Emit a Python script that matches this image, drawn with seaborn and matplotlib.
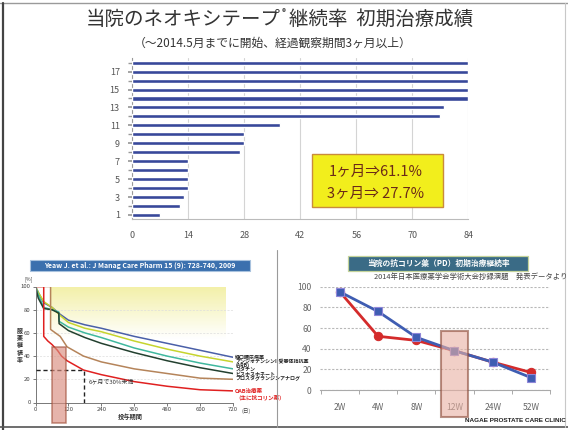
import numpy as np
import matplotlib
matplotlib.use("Agg")
import matplotlib.pyplot as plt
from matplotlib.patches import Rectangle
from matplotlib.lines import Line2D
import seaborn as sns

# ---------------- upper chart: days on tape per patient ----------------
patient_no = list(range(1, 19))
days_on_tape = [7, 12, 13, 14, 14, 14, 14, 27, 28, 28, 37, 77, 78, 84, 84, 84, 84, 84]
top_xticks = [0, 14, 28, 42, 56, 70, 84]
top_yticks = [1, 3, 5, 7, 9, 11, 13, 15, 17]
summary_lines = ["1ヶ月⇒61.1%", "3ヶ月⇒ 27.7%"]

# ---------------- lower left: persistence curves (Yeaw 2009) ----------------
dm_days = [0, 10, 30, 60, 90, 120, 180, 240, 360, 480, 600, 720]
dm_pct = [100, 95, 86, 82, 76, 71, 67, 64, 57, 51, 45, 39]
arb_days = [0, 10, 30, 60, 90, 120, 180, 240, 360, 480, 600, 720]
arb_pct = [100, 95, 87, 82, 75, 69, 64, 61, 53, 46, 40, 35]
statin_days = [0, 10, 30, 60, 85, 86, 120, 180, 240, 360, 480, 600, 720]
statin_pct = [100, 93, 82, 80, 78, 70, 65, 60, 56, 47, 40, 34, 29]
bp_days = [0, 10, 30, 60, 85, 86, 120, 180, 240, 360, 480, 600, 720]
bp_pct = [100, 90, 81, 80, 77, 68, 62, 56, 51, 43, 36, 30, 25]
pg_days = [0, 55, 55, 90, 115, 175, 240, 360, 480, 600, 720]
pg_pct = [100, 100, 63, 57, 48, 40, 35, 29, 25, 21, 20]
oab_days = [0, 30, 30, 45, 60, 80, 95, 115, 175, 240, 360, 480, 600, 720]
oab_pct = [100, 100, 57, 53, 50, 45, 40, 36, 28, 24, 18, 14, 11, 10]
curve_labels = ["経口糖尿病薬", "アンジオテンシンII受容体拮抗薬", "(ARB)", "スタチン",
                "ビスホスホネート", "プロスタグランジンアナログ"]
oab_labels = ["OAB治療薬", "（主に抗コリン薬）"]
ll_xticks = [0, 120, 240, 360, 480, 600, 720]
ll_yticks = [0, 20, 40, 60, 80, 100]

# ---------------- lower right: clinic anticholinergic persistence ----------------
weeks = ["2W", "4W", "8W", "12W", "24W", "52W"]
rate_blue = [95, 76, 51, 38, 27, 12]
rate_red = [95, 52, 48, 38, 27, 17]
lr_yticks = [0, 20, 40, 60, 80, 100]

sns.set_theme(style="white")
plt.rcParams["font.family"] = ["Noto Sans CJK JP", "DejaVu Sans"]

W, H = 568, 430
fig = plt.figure(figsize=(W / 100, H / 100), dpi=100)
fig.patch.set_facecolor("white")


def fx(px):
    return px / W


def fy(py):
    return 1 - py / H


def box(x0, y0, x1, y1):
    return [fx(x0), fy(y1), fx(x1) - fx(x0), fy(y0) - fy(y1)]


# slide frame
for (xa, ya, xb, yb, c, lw) in [(0, 3, 568, 3, "#9a9a9a", 1.0), (3, 3, 3, 430, "#444444", 1.6),
                                  (0, 427, 568, 427, "#555555", 1.2), (277, 250, 277, 427, "#9a9a9a", 0.8),
                                  (565, 3, 565, 427, "#c8c8c8", 0.8)]:
    fig.add_artist(Line2D([fx(xa), fx(xb)], [fy(ya), fy(yb)], color=c, lw=lw))

# ---------------- titles ----------------
fig.text(fx(86), fy(19), "当院のネオキシテープ", fontsize=14, color="#333333", ha="left", va="center")
fig.text(fx(282), fy(13), "®", fontsize=6, color="#333333", ha="left", va="center")
fig.text(fx(289), fy(19), "継続率  初期治療成績", fontsize=14, color="#333333", ha="left", va="center")
fig.text(fx(273), fy(43), "（～2014.5月までに開始、経過観察期間3ヶ月以上）", fontsize=8.5,
         color="#333333", ha="center", va="center")

# ---------------- upper chart ----------------
ax1 = fig.add_axes(box(132.3, 58, 468.3, 219))
sns.barplot(x=days_on_tape, y=patient_no, orient="h", native_scale=True, color="#38489a",
            width=0.45, saturation=1, errorbar=None, ax=ax1, zorder=3)
ax1.set_xlim(0, 84)
ax1.set_ylim(0.55, 18.52)
ax1.set_xticks(top_xticks)
ax1.set_yticks(top_yticks)
ax1.set_xticklabels([str(v) for v in top_xticks])
ax1.set_yticklabels([str(v) for v in top_yticks])
ax1.set_yticks(patient_no, minor=True)
ax1.tick_params(axis="both", labelsize=6.5, colors="#555555", length=0)
ax1.tick_params(axis="y", which="both", left=True, length=3, color="#999999", pad=6)
ax1.tick_params(axis="x", pad=9)
ax1.set_xlabel("")
ax1.set_ylabel("")
ax1.xaxis.grid(True, color="#d4d4d4", lw=0.8)
ax1.set_axisbelow(True)
for s in ["top", "right"]:
    ax1.spines[s].set_visible(False)
ax1.spines["left"].set_color("#999999")
ax1.spines["bottom"].set_color("#bbbbbb")
ax1.spines["left"].set_linewidth(0.8)
ax1.spines["bottom"].set_linewidth(0.8)
ax1.add_patch(Rectangle((45, 1.9), 32.6, 5.9, facecolor="#f2ee1c", edgecolor="#c98b3c",
                        lw=1.0, zorder=5))
ax1.text(60.9, 5.85, summary_lines[0], fontsize=10.5, color="#6b2a18", ha="center",
         va="center", zorder=6)
ax1.text(60.9, 3.4, summary_lines[1], fontsize=10.5, color="#6b2a18", ha="center",
         va="center", zorder=6)

# ---------------- lower left chart ----------------
fig.add_artist(Rectangle((fx(30), fy(271)), fx(250) - fx(30), fy(260) - fy(271),
                         transform=fig.transFigure, facecolor="#3b70ae", edgecolor="#a8c2de", lw=0.8))
fig.text(fx(140), fy(265.5), "Yeaw J. et al.: J Manag Care Pharm 15 (9): 728-740, 2009",
         fontsize=5, color="white", style="italic", weight="bold", ha="center", va="center")

ax2 = fig.add_axes(box(35.5, 286.5, 233, 402.5))
ax2.set_xlim(0, 720)
ax2.set_ylim(0, 100)
grad = np.linspace(0, 1, 64).reshape(-1, 1)
ax2.imshow(grad, extent=[55, 690, 55, 100], origin="lower", aspect="auto",
           cmap=matplotlib.colors.LinearSegmentedColormap.from_list("y", ["#ffffff", "#f3f0a8"]),
           zorder=0)
for yv in [20, 40, 60, 80]:
    ax2.axhline(yv, color="#dddddd", lw=0.5, ls=(0, (3, 2)), zorder=0.5)

curve_sets = [
    (dm_days, dm_pct, "#4a5fa8"),
    (arb_days, arb_pct, "#c6d42e"),
    (statin_days, statin_pct, "#3fb89e"),
    (bp_days, bp_pct, "#23402f"),
    (pg_days, pg_pct, "#b5845a"),
    (oab_days, oab_pct, "#e02020"),
]
for d, p, c in curve_sets:
    sns.lineplot(x=d, y=p, estimator=None, sort=False, color=c, lw=1.1, ax=ax2, zorder=2)

ax2.plot([0, 175], [28, 28], color="#222222", lw=1.0, ls=(0, (3, 2)), zorder=3)
ax2.plot([175, 175], [0, 28], color="#222222", lw=1.0, ls=(0, (3, 2)), zorder=3)
ax2.text(192, 18, "6ヶ月で30%未満", fontsize=4.3, color="#333333", ha="left", va="center")
ax2.add_patch(Rectangle((60, -18), 51, 66, facecolor="#d98d7e", edgecolor="#a04e38",
                        lw=1.1, alpha=0.65, zorder=4, clip_on=False))

ax2.set_xticks(ll_xticks)
ax2.set_yticks(ll_yticks)
ax2.set_xticklabels([str(v) for v in ll_xticks])
ax2.set_yticklabels([str(v) for v in ll_yticks])
ax2.tick_params(axis="both", labelsize=4.3, colors="#444444", length=2, width=0.5, pad=1.5,
                bottom=True, left=True)
ax2.set_xlabel("")
ax2.set_ylabel("")
for s in ["top", "right"]:
    ax2.spines[s].set_visible(False)
for s in ["left", "bottom"]:
    ax2.spines[s].set_color("#777777")
    ax2.spines[s].set_linewidth(0.7)
ax2.text(-8, 104, "[%]", fontsize=3.8, color="#444444", ha="right", va="bottom")
ax2.text(750, -7, "(日)", fontsize=4.0, color="#444444", ha="left", va="center", clip_on=False)

label_y = [39.2, 35.8, 32.3, 28.9, 24.6, 21.1]
for t, yv in zip(curve_labels, label_y):
    ax2.text(728, yv, t, fontsize=3.6, color="#222222", ha="left", va="center",
             weight="bold", clip_on=False)
ax2.text(728, 9.9, oab_labels[0], fontsize=4.0, color="#e02020", ha="left", va="center",
         weight="bold", clip_on=False)
ax2.text(728, 3.9, oab_labels[1], fontsize=4.0, color="#e02020", ha="left", va="center",
         weight="bold", clip_on=False)

fig.text(fx(20), fy(345), "\n".join("服薬継続率"), fontsize=4.3, weight="bold",
         color="#333333", ha="center", va="center", linespacing=1.0)
fig.text(fx(130), fy(417), "投与期間", fontsize=4.5, weight="bold", color="#333333",
         ha="center", va="center")

# ---------------- lower right chart ----------------
fig.add_artist(Rectangle((fx(348), fy(270.5)), fx(528) - fx(348), fy(256) - fy(270.5),
                         transform=fig.transFigure, facecolor="#3a6b86", edgecolor="#c4d39a", lw=0.9))
fig.text(fx(438), fy(263.5), "当院の抗コリン薬（PD）初期治療継続率", fontsize=5.6,
         color="white", weight="bold", ha="center", va="center")
fig.text(fx(567), fy(276.5), "2014年日本医療薬学会学術大会抄録演題　発表データより",
         fontsize=5.3, color="#444444", ha="right", va="center")

ax3 = fig.add_axes(box(320, 286.7, 550, 390))
pos = np.arange(len(weeks))
sns.lineplot(x=pos, y=rate_red, estimator=None, sort=False, color="#d42b2b", lw=2.0,
             marker="o", markersize=6, markeredgecolor="#d42b2b", ax=ax3, zorder=3)
sns.lineplot(x=pos, y=rate_blue, estimator=None, sort=False, color="#3f5db2", lw=2.0,
             marker="s", markersize=5.5, markeredgecolor="#8f86d8", markeredgewidth=0.8,
             ax=ax3, zorder=4)
ax3.set_xlim(-0.52, 5.44)
ax3.set_ylim(0, 100)
ax3.set_yticks(lr_yticks)
ax3.set_yticklabels([str(v) for v in lr_yticks])
ax3.set_xticks(pos)
ax3.set_xticklabels(weeks)
ax3.set_xticks(np.arange(len(weeks) + 1) - 0.5, minor=True)
ax3.tick_params(axis="both", which="major", labelsize=6.2, colors="#666666", length=0, pad=9)
ax3.tick_params(axis="x", which="minor", bottom=True, length=3, color="#aaaaaa", width=0.7)
ax3.tick_params(axis="y", pad=6)
ax3.set_xlabel("")
ax3.set_ylabel("")
ax3.yaxis.grid(True, color="#b8b8b8", lw=0.8, ls=(0, (2, 1.5)))
ax3.set_axisbelow(True)
for s in ["top", "right", "left"]:
    ax3.spines[s].set_visible(False)
ax3.spines["bottom"].set_color("#aaaaaa")
ax3.spines["bottom"].set_linewidth(0.8)
ax3.add_patch(Rectangle((2.64, -26), 0.72, 83.5, facecolor="#e8b0a2", edgecolor="#8a4a38",
                        lw=1.5, alpha=0.6, zorder=5, clip_on=False))

fig.text(fx(566), fy(421), "NAGAE PROSTATE CARE CLINIC", fontsize=4.6, weight="bold",
         color="#222222", ha="right", va="center", family=["Liberation Sans", "DejaVu Sans"])

fig.savefig("out.png", dpi=100)
